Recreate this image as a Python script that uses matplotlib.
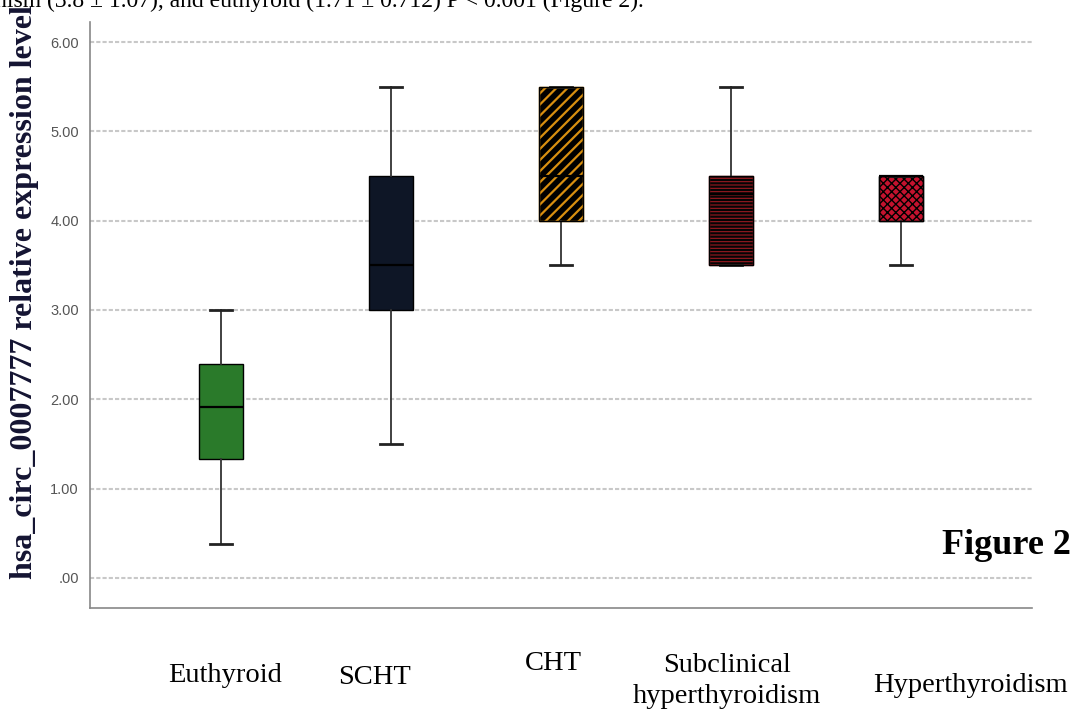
import matplotlib
matplotlib.use("Agg")
import matplotlib.pyplot as plt
from matplotlib.patches import PathPatch

# ---------------------------------------------
# data
# ---------------------------------------------
groups = ["Euthyroid", "SCHT", "CHT", "Subclinical\nhyperthyroidism", "Hyperthyroidism"]
whislo = [0.38, 1.5, 3.5, 3.5, 3.5]
q1 = [1.33, 3.0, 4.0, 3.5, 4.0]
med = [1.91, 3.5, 4.5, 4.3, 4.5]
q3 = [2.40, 4.5, 5.5, 4.5, 4.5]
whishi = [3.0, 5.5, 5.5, 5.5, 4.5]
yticks = [0, 1, 2, 3, 4, 5, 6]
ytick_labels = [".00", "1.00", "2.00", "3.00", "4.00", "5.00", "6.00"]

# box styling
face_colors = ["#2a7a2a", "#0e1626", "#000000", "#050505", "#c4122e"]
hatch_colors = [None, None, "#d88f10", "#9c1a20", "#000000"]
hatches = [None, None, "///", "-----", "xxxx"]
hatch_lws = [None, None, 1.6, 0.8, 1.0]

# label placement in figure pixels (the labels were hand placed in the original)
label_xy = [(225, 676), (375, 678), (553, 663), (727, 681), (970, 686)]

plt.rcParams["hatch.linewidth"] = 1.2

W, H = 1075, 716
fig = plt.figure(figsize=(W / 100, H / 100), dpi=100)
ax = fig.add_axes([90 / W, 1 - 608 / H, (1032 - 90) / W, (608 - 22) / H])

stats = []
for i in range(len(groups)):
    stats.append({
        "whislo": whislo[i], "q1": q1[i], "med": med[i],
        "q3": q3[i], "whishi": whishi[i], "fliers": [],
    })

bp = ax.bxp(
    stats,
    positions=range(len(groups)),
    widths=0.26,
    patch_artist=True,
    showfliers=False,
    capwidths=0.13,
    boxprops=dict(linewidth=1.0, edgecolor="black"),
    medianprops=dict(color="black", linewidth=1.6),
    whiskerprops=dict(color="#333333", linewidth=1.3),
    capprops=dict(color="#222222", linewidth=2.0),
)

for i, box in enumerate(bp["boxes"]):
    box.set_facecolor(face_colors[i])
    if hatches[i]:
        box.set_hatch(hatches[i])
        box.set_edgecolor(hatch_colors[i])
        if hasattr(box, "set_hatch_linewidth"):
            box.set_hatch_linewidth(hatch_lws[i])
        # black outline on top of the hatched box
        outline = PathPatch(box.get_path(), fill=False, edgecolor="black",
                            linewidth=1.0, zorder=box.get_zorder() + 0.1)
        ax.add_patch(outline)

ax.set_xlim(-0.77, 4.77)
ax.set_ylim(-0.336, 6.224)

ax.set_yticks(yticks)
ax.set_yticklabels(ytick_labels, fontsize=10.5, color="#555555",
                   family="Liberation Sans")
ax.tick_params(axis="y", length=0, pad=8)
ax.set_xticks([])

ax.set_axisbelow(True)
ax.yaxis.grid(True, color="#c8c8c8", linestyle=(0, (2, 1)), linewidth=1.5)

for side in ["top", "right"]:
    ax.spines[side].set_visible(False)
for side in ["left", "bottom"]:
    ax.spines[side].set_color("#888888")
    ax.spines[side].set_linewidth(1.2)

# y axis title
fig.text(25 / W, 1 - 292 / H, "hsa_circ_0007777 relative expression level",
         rotation=90, ha="center", va="center", fontsize=23, fontweight="bold",
         family="Liberation Serif", color="#141432")

# group labels
for name, (px, py) in zip(groups, label_xy):
    fig.text(px / W, 1 - py / H, name, ha="center", va="center",
             fontsize=20.5, family="Liberation Serif", linespacing=1.35)

fig.text(1006 / W, 1 - 546 / H, "Figure 2", ha="center", va="center",
         fontsize=26, fontweight="bold", family="Liberation Serif")

# cut-off line of body text above the chart
fig.text(-5 / W, 1 - 7 / H,
         "hism (3.8 \u00b1 1.07), and euthyroid (1.71 \u00b1 0.712) P < 0.001 (Figure 2).",
         ha="left", va="baseline", fontsize=17, family="Liberation Serif")

fig.savefig("out.png", dpi=100)
